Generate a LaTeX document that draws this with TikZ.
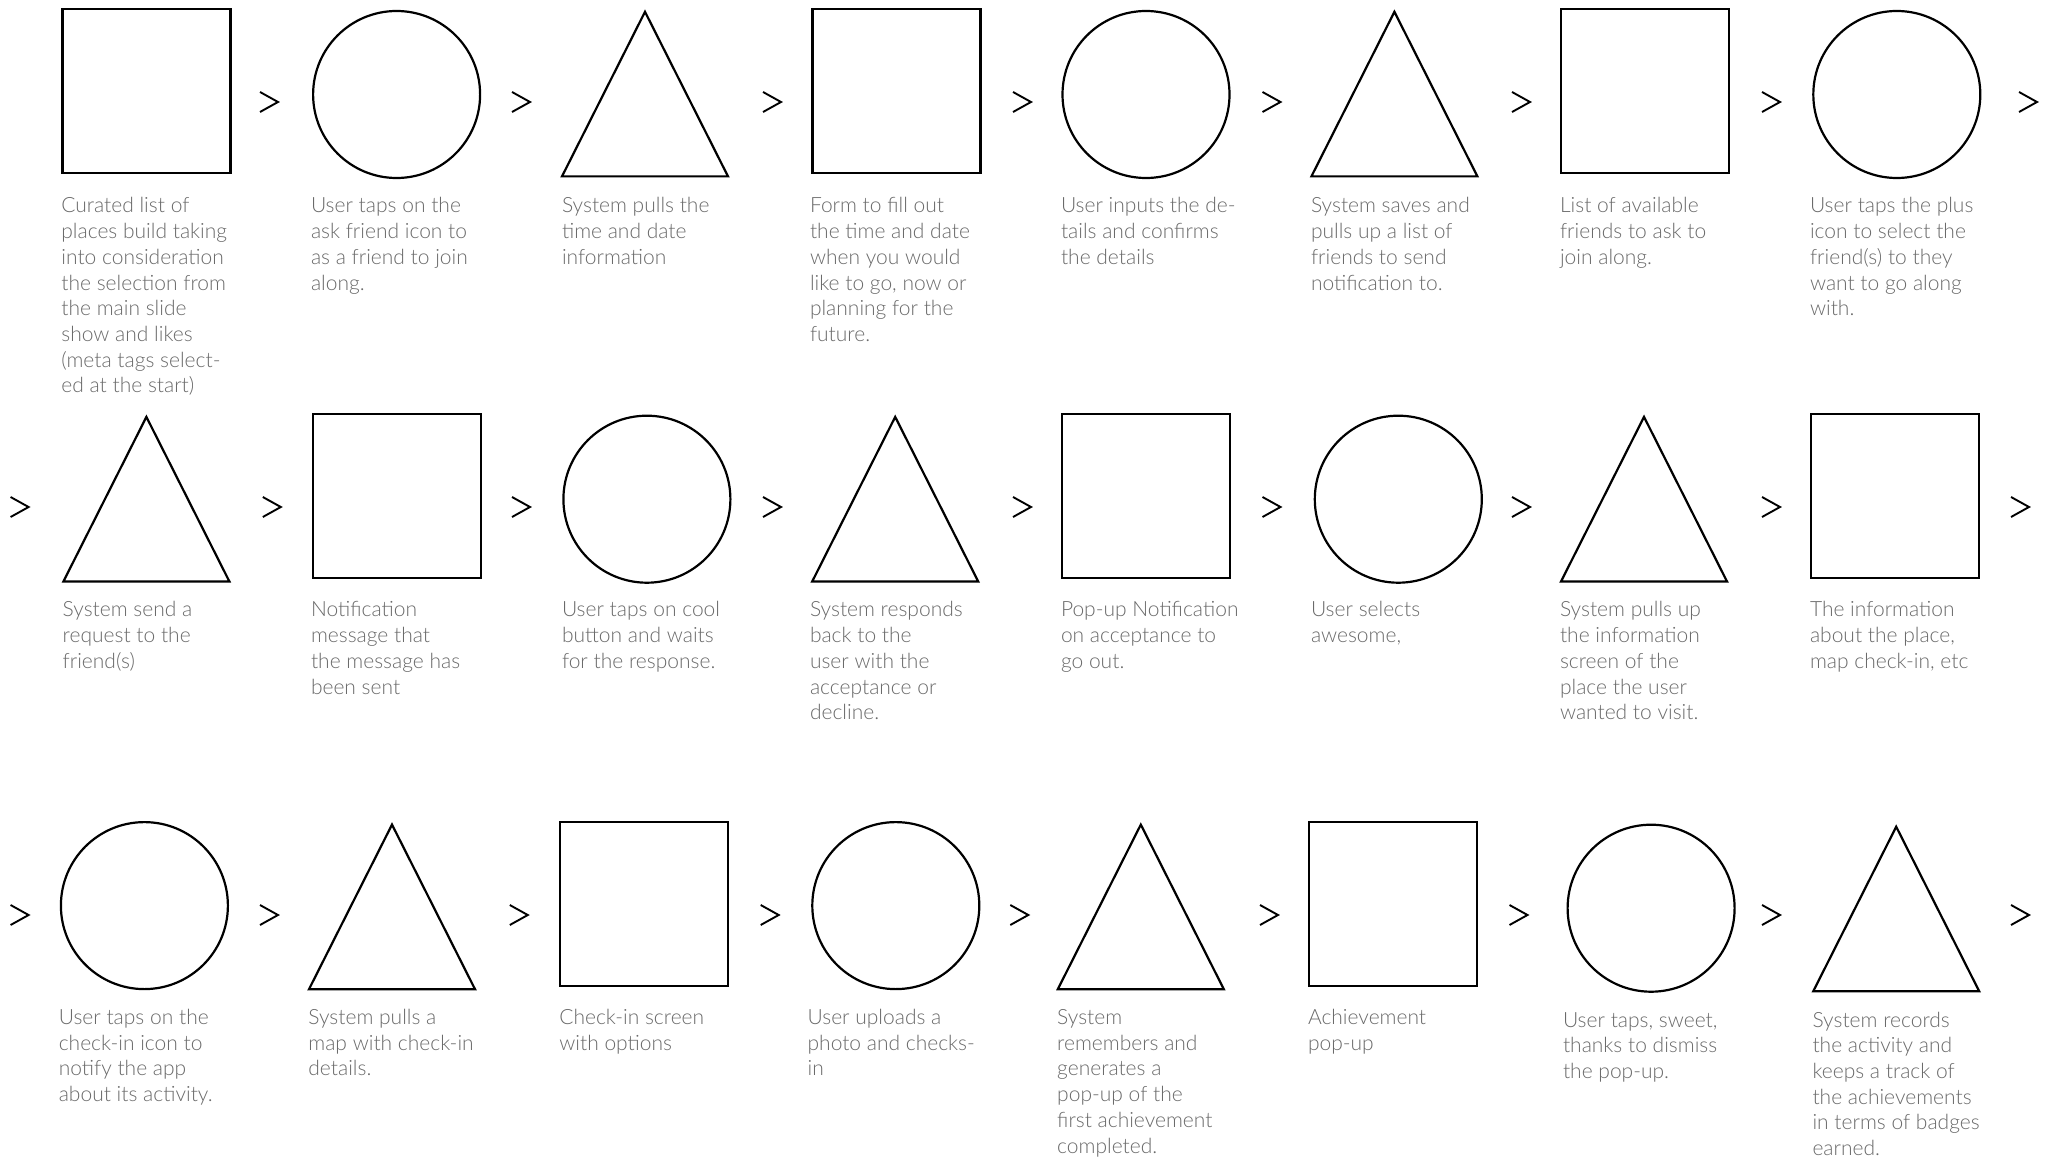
\documentclass[tikz,border=0pt]{standalone}
\usepackage{fontspec}
\IfFontExistsTF{Lato Light}{\setmainfont{Lato Light}}{\setmainfont{Lato}}
\usetikzlibrary{calc}
\definecolor{txt}{HTML}{6A6A6A}
\tikzset{
  shp/.style={draw=black, line width=2.2pt},
  sqbox/.style={shp, rectangle, minimum width=168pt, minimum height=164pt, inner sep=0pt, outer sep=0pt},
  cibox/.style={shp, circle, minimum size=167pt, inner sep=0pt, outer sep=0pt},
  chv/.style={draw=black, line width=1.9pt, line cap=butt, line join=miter},
  lbl/.style={font=\fontsize{21}{25.7}\selectfont, text=txt, align=left, anchor=north west, inner sep=0pt, outer sep=0pt}
}
% square, circle, triangle: name, center x, center y
\newcommand\mysq[3]{\node[sqbox] (#1) at (#2,#3) {};}
\newcommand\myci[3]{\node[cibox] (#1) at (#2,#3) {};}
\newcommand\mytri[3]{\coordinate (#1) at (#2,#3);
  \draw[shp, line join=miter] (#2,#3-82.3) -- (#2+83,#3+82.3) -- (#2-83,#3+82.3) -- cycle;}
% chevron: name, x, y
\newcommand\mychev[3]{\coordinate (#1) at (#2,#3);
  \draw[chv] (#2-9,#3-10) -- (#2+9,#3) -- (#2-9,#3+10);}
% label: name, left x, baseline y, text
\newcommand\mylbl[4]{\node[lbl] (#1) at (#2,#3-18) {\strut #4};}
\begin{document}
\begin{tikzpicture}[x=1pt,y=-1pt]
\useasboundingbox (0,0) rectangle (2049,1158);
\fill[white] (0,0) rectangle (2049,1158);

% ---------- Row 1 ----------
\mysq{s1}{146.4}{91}
\myci{s2}{396.6}{94.5}
\mytri{s3}{645}{94.1}
\mysq{s4}{896.5}{91}
\myci{s5}{1146}{94.5}
\mytri{s6}{1394.4}{94.1}
\mysq{s7}{1645.3}{91}
\myci{s8}{1896.8}{94.5}

\mychev{a1}{269}{102}
\mychev{a2}{521}{102}
\mychev{a3}{772}{102}
\mychev{a4}{1022}{102}
\mychev{a5}{1271.5}{102}
\mychev{a6}{1521}{102}
\mychev{a7}{1771}{102}
\mychev{a8}{2028}{102}

\mylbl{l1}{61.4}{213}{Curated list of\\places build taking\\into consideration\\the selection from\\the main slide\\show and likes\\(meta tags select-\\ed at the start)}
\mylbl{l2}{311}{213}{User taps on the\\ask friend icon to\\as a friend to join\\along.}
\mylbl{l3}{562}{213}{System pulls the\\time and date\\information}
\mylbl{l4}{810}{213}{Form to fill out\\the time and date\\when you would\\like to go, now or\\planning for the\\future.}
\mylbl{l5}{1061}{213}{User inputs the de-\\tails and confirms\\the details}
\mylbl{l6}{1311}{213}{System saves and\\pulls up a list of\\friends to send\\notification to.}
\mylbl{l7}{1560}{213}{List of available\\friends to ask to\\join along.}
\mylbl{l8}{1810}{213}{User taps the plus\\icon to select the\\friend(s) to they\\want to go along\\with.}

% ---------- Row 2 ----------
\mytri{s9}{146.4}{499.2}
\mysq{s10}{397.2}{496}
\myci{s11}{646.9}{499.2}
\mytri{s12}{895.2}{499.2}
\mysq{s13}{1146}{496}
\myci{s14}{1398.3}{499.2}
\mytri{s15}{1644}{499.2}
\mysq{s16}{1894.9}{496}

\mychev{b0}{19.6}{507}
\mychev{b1}{271.8}{507}
\mychev{b2}{521}{507}
\mychev{b3}{772}{507}
\mychev{b4}{1022}{507}
\mychev{b5}{1271.5}{507}
\mychev{b6}{1521}{507}
\mychev{b7}{1771}{507}
\mychev{b8}{2020}{507}

\mylbl{l9}{62.7}{617}{System send a\\request to the\\friend(s)}
\mylbl{l10}{311}{617}{Notification\\message that\\the message has\\been sent}
\mylbl{l11}{562}{617}{User taps on cool\\button and waits\\for the response.}
\mylbl{l12}{810}{617}{System responds\\back to the\\user with the\\acceptance or\\decline.}
\mylbl{l13}{1061}{617}{Pop-up Notification\\on acceptance to\\go out.}
\mylbl{l14}{1311}{617}{User selects\\awesome,}
\mylbl{l15}{1560}{617}{System pulls up\\the information\\screen of the\\place the user\\wanted to visit.}
\mylbl{l16}{1810}{617}{The information\\about the place,\\map check-in, etc}

% ---------- Row 3 ----------
\myci{s17}{144.4}{905.6}
\mytri{s18}{392}{906.9}
\mysq{s19}{644.2}{903.7}
\myci{s20}{895.8}{905.6}
\mytri{s21}{1140.8}{906.9}
\mysq{s22}{1393}{903.7}
\myci{s23}{1651.1}{908.2}
\mytri{s24}{1896.2}{909}

\mychev{c0}{19.6}{915}
\mychev{c1}{269}{915}
\mychev{c2}{518.8}{915}
\mychev{c3}{769.7}{915}
\mychev{c4}{1019.3}{915}
\mychev{c5}{1269}{915}
\mychev{c6}{1518.5}{915}
\mychev{c7}{1771}{915}
\mychev{c8}{2020}{915}

\mylbl{l17}{58.8}{1024.5}{User taps on the\\check-in icon to\\notify the app\\about its activity.}
\mylbl{l18}{308.4}{1024.5}{System pulls a\\map with check-in\\details.}
\mylbl{l19}{559.3}{1024.5}{Check-in screen\\with options}
\mylbl{l20}{807.6}{1024.5}{User uploads a\\photo and checks-\\in}
\mylbl{l21}{1057.2}{1024.5}{System\\remembers and\\generates a\\pop-up of the\\first achievement\\completed.}
\mylbl{l22}{1308}{1024.5}{Achievement\\pop-up}
\mylbl{l23}{1563}{1027}{User taps, sweet,\\thanks to dismiss\\the pop-up.}
\mylbl{l24}{1812.5}{1027}{System records\\the activity and\\keeps a track of\\the achievements\\in terms of badges\\earned.}
\end{tikzpicture}
\end{document}
